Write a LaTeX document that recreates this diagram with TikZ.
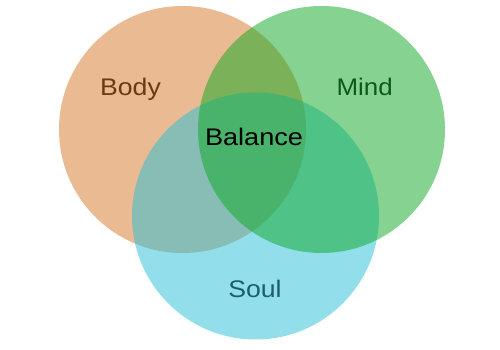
\documentclass[tikz,border=0pt]{standalone}
\usepackage{fontspec}
\setmainfont{Liberation Sans}
\definecolor{bodyc}{RGB}{213,119,37}
\definecolor{soulc}{RGB}{37,191,215}
\definecolor{mindc}{RGB}{13,167,35}
\definecolor{bodyt}{RGB}{106,58,18}
\definecolor{mindt}{RGB}{14,88,30}
\definecolor{soult}{RGB}{28,92,110}
\begin{document}
\begin{tikzpicture}[x=1pt,y=-1pt,
  set/.style={circle,minimum size=247pt,inner sep=0pt,fill opacity=0.5,draw=none},
  lbl/.style={anchor=base,inner sep=0pt,font=\fontsize{24}{28}\selectfont}]
\useasboundingbox (0,0) rectangle (500,350);
\node[set,fill=bodyc] (body) at (182.5,129.5) {};
\node[set,fill=soulc] (soul) at (255.5,216) {};
\node[set,fill=mindc] (mind) at (321.5,129.5) {};
\node[lbl,text=bodyt] (tbody) at (130.5,95.5) {\scalebox{1.11}[1]{Body}};
\node[lbl,text=mindt] (tmind) at (364.7,95.3) {\scalebox{1.08}[1]{Mind}};
\node[lbl,text=soult] (tsoul) at (255,297.7) {\scalebox{1.11}[1]{Soul}};
\node[lbl,text=black] (tbal) at (254,145.7) {\scalebox{1.13}[1]{Balance}};
\end{tikzpicture}
\end{document}
